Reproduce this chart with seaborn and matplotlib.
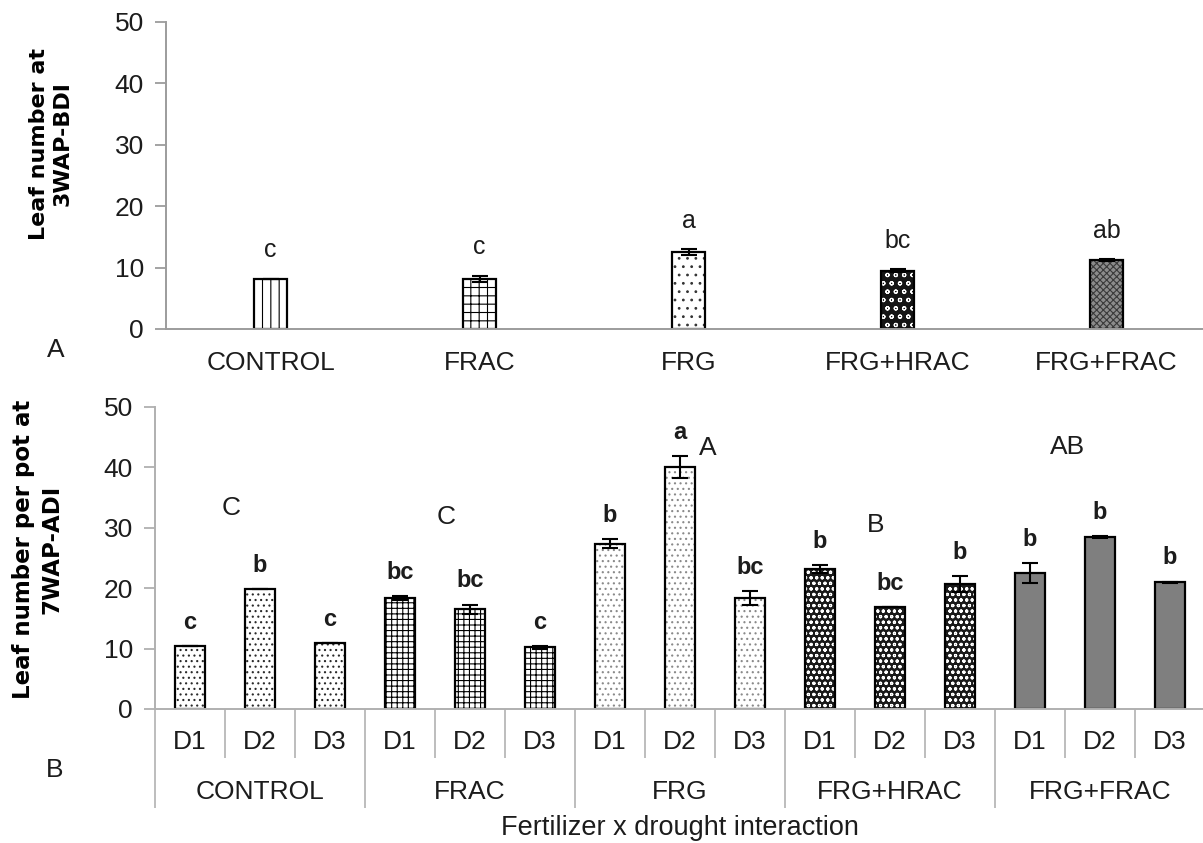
import matplotlib
matplotlib.use("Agg")
import matplotlib.pyplot as plt
from matplotlib.patches import Rectangle
import pandas as pd
import seaborn as sns

# ---- data -----------------------------------------------------------------
fertilizers = ["CONTROL", "FRAC", "FRG", "FRG+HRAC", "FRG+FRAC"]
droughts = ["D1", "D2", "D3"]

# A: leaf number at 3 WAP, before drought imposition
leaf_bdi = [8.2, 8.2, 12.5, 9.5, 11.2]
leaf_bdi_se = [0.0, 0.5, 0.5, 0.2, 0.2]
letters_bdi = ["c", "c", "a", "bc", "ab"]

# B: leaf number per pot at 7 WAP, after drought imposition (D1, D2, D3)
leaf_control = [10.4, 19.9, 11.0]
leaf_frac = [18.4, 16.5, 10.2]
leaf_frg = [27.4, 40.1, 18.4]
leaf_frg_hrac = [23.2, 16.9, 20.7]
leaf_frg_frac = [22.5, 28.5, 21.0]

se_control = [0.0, 0.0, 0.0]
se_frac = [0.3, 0.8, 0.3]
se_frg = [0.7, 1.8, 1.2]
se_frg_hrac = [0.7, 0.0, 1.3]
se_frg_frac = [1.6, 0.2, 0.1]

letters_control = ["c", "b", "c"]
letters_frac = ["bc", "bc", "c"]
letters_frg = ["b", "a", "bc"]
letters_frg_hrac = ["b", "bc", "b"]
letters_frg_frac = ["b", "b", "b"]

# fertilizer main-effect letters
fert_letters = ["C", "C", "A", "B", "AB"]

# ---- style ----------------------------------------------------------------
sns.set_style("white")
plt.rcParams["font.family"] = ["Liberation Sans", "DejaVu Sans"]
plt.rcParams["hatch.linewidth"] = 0.8

INK = "#1c1c1c"
AXIS = "#9c9c9c"
TICK_SIZE = 19

fig = plt.figure(figsize=(12.03, 8.43), dpi=100)
ax1 = fig.add_axes([166 / 1203, 1 - 329 / 843, 1045 / 1203, 307 / 843])
ax2 = fig.add_axes([155 / 1203, 1 - 709 / 843, 1050 / 1203, 302 / 843])


def texture(ax, patch, face, hatch=None, hatch_color="black"):
    """Fill a bar, lay a coloured hatch over it and redraw its outline."""
    z = patch.get_zorder()
    patch.set_facecolor(face)
    patch.set_edgecolor("none")
    x, y = patch.get_xy()
    w, h = patch.get_width(), patch.get_height()
    if hatch:
        ax.add_patch(Rectangle((x, y), w, h, fill=False, hatch=hatch,
                               edgecolor=hatch_color, linewidth=0, zorder=z + 0.1))
    ax.add_patch(Rectangle((x, y), w, h, fill=False, edgecolor="black",
                           linewidth=1.6, zorder=z + 0.2))


# ---- panel A ----------------------------------------------------------------
df_a = pd.DataFrame({"fertilizer": fertilizers, "leaves": leaf_bdi})
sns.barplot(data=df_a, x="fertilizer", y="leaves", order=fertilizers,
            width=0.16, color="white", errorbar=None, ax=ax1)

styles_a = [
    ("white", "||", "black"),
    ("white", "++", "black"),
    ("white", "..", "#333333"),
    ("#151515", "oo", "white"),
    ("#8c8c8c", "xxxxx", "#3a3a3a"),
]
for patch, (face, hatch, hcol) in zip(ax1.patches[:5], styles_a):
    texture(ax1, patch, face, hatch, hcol)

ax1.errorbar(range(5), leaf_bdi, yerr=leaf_bdi_se, fmt="none", ecolor="black",
             elinewidth=1.5, capsize=6, capthick=1.5, zorder=5)
for i, (v, e, t) in enumerate(zip(leaf_bdi, leaf_bdi_se, letters_bdi)):
    ax1.text(i, v + e + 4.6, t, ha="center", va="center", fontsize=18, color=INK)

ax1.set_xlim(-0.5, 4.5)
ax1.set_ylim(0, 50)
ax1.set_yticks(range(0, 51, 10))
ax1.set_xticks(range(5), labels=fertilizers)
ax1.set_xticks([i - 0.5 for i in range(6)], minor=True)
ax1.tick_params(axis="x", which="major", length=0, pad=16, labelsize=TICK_SIZE,
                labelcolor=INK)
ax1.tick_params(axis="x", which="minor", length=8, width=1.3, color=AXIS, direction="out")
ax1.tick_params(axis="y", length=8, width=1.3, color=AXIS, direction="out",
                pad=8, labelsize=TICK_SIZE, labelcolor=INK, left=True)
ax1.set_xlabel("")
ax1.set_ylabel("")
for side in ("top", "right"):
    ax1.spines[side].set_visible(False)
for side in ("left", "bottom"):
    ax1.spines[side].set_color(AXIS)
    ax1.spines[side].set_linewidth(1.4)
ax1.text(-0.11, 0.603, "Leaf number at\n3WAP-BDI", transform=ax1.transAxes,
         rotation=90, ha="center", va="center", fontsize=16, fontweight="bold",
         family="DejaVu Sans", color="black", linespacing=1.2)
fig.text(56 / 1203, 1 - 350 / 843, "A", ha="center", va="center", fontsize=19, color=INK)

# ---- panel B ----------------------------------------------------------------
groups = [leaf_control, leaf_frac, leaf_frg, leaf_frg_hrac, leaf_frg_frac]
group_se = [se_control, se_frac, se_frg, se_frg_hrac, se_frg_frac]
group_letters = [letters_control, letters_frac, letters_frg, letters_frg_hrac,
                 letters_frg_frac]

rows = []
for f, vals, ses, lets in zip(fertilizers, groups, group_se, group_letters):
    for d, v, s, l in zip(droughts, vals, ses, lets):
        rows.append({"cell": f"{f} {d}", "fertilizer": f, "drought": d,
                     "leaves": v, "se": s, "letter": l})
df_b = pd.DataFrame(rows)
cells = list(df_b["cell"])

sns.barplot(data=df_b, x="cell", y="leaves", order=cells, width=0.43,
            color="white", errorbar=None, ax=ax2)

styles_b = {
    "CONTROL": ("white", "...", "#2a2a2a"),
    "FRAC": ("white", "+++", "black"),
    "FRG": ("white", "...", "#8a8a8a"),
    "FRG+HRAC": ("#1a1a1a", "ooo", "white"),
    "FRG+FRAC": ("#7f7f7f", None, "black"),
}
for patch, fert in zip(ax2.patches[:15], df_b["fertilizer"]):
    face, hatch, hcol = styles_b[fert]
    texture(ax2, patch, face, hatch, hcol)

xpos = list(range(len(cells)))
ax2.errorbar(xpos, df_b["leaves"], yerr=df_b["se"], fmt="none", ecolor="black",
             elinewidth=1.5, capsize=6, capthick=1.5, zorder=5)
for x, v, s, t in zip(xpos, df_b["leaves"], df_b["se"], df_b["letter"]):
    ax2.text(x, v + s + 3.9, t, ha="center", va="center", fontsize=17,
             fontweight="bold", color=INK)

# main-effect letters for each fertilizer
fert_letter_xy = [(0.59, 33.3), (3.66, 31.8), (7.4, 43.2), (9.79, 30.5), (12.53, 43.4)]
for t, (x, y) in zip(fert_letters, fert_letter_xy):
    ax2.text(x, y, t, ha="center", va="center", fontsize=19, color=INK)

ax2.set_xlim(-0.5, 14.5)
ax2.set_ylim(0, 50)
ax2.set_yticks(range(0, 51, 10))
ax2.set_xticks(xpos, labels=list(df_b["drought"]))
ax2.tick_params(axis="x", length=0, pad=15, labelsize=TICK_SIZE, labelcolor=INK)
ax2.tick_params(axis="y", length=8, width=1.3, color="#b0b0b0", direction="out",
                pad=8, labelsize=TICK_SIZE, labelcolor=INK, left=True)
ax2.set_xlabel("")
ax2.set_ylabel("")
for side in ("top", "right"):
    ax2.spines[side].set_visible(False)
for side in ("left", "bottom"):
    ax2.spines[side].set_color("#b0b0b0")
    ax2.spines[side].set_linewidth(1.4)

# two-level category axis: separators and fertilizer names
xt = ax2.get_xaxis_transform()
sub_edges = [i + 0.5 for i in range(14) if (i + 1) % 3 != 0]
grp_edges = [-0.5, 2.5, 5.5, 8.5, 11.5, 14.5]
ax2.vlines(sub_edges, -0.162, 0, transform=xt, colors="#b8b8b8", linewidth=1.3,
           clip_on=False)
ax2.vlines(grp_edges, -0.328, 0, transform=xt, colors="#b8b8b8", linewidth=1.3,
           clip_on=False)
for g, f in enumerate(fertilizers):
    ax2.text(3 * g + 1, -0.275, f, transform=xt, ha="center", va="center",
             fontsize=TICK_SIZE, color=INK)

fig.text(680 / 1203, 1 - 828 / 843, "Fertilizer x drought interaction",
         ha="center", va="center", fontsize=19.5, color=INK)
ax2.text(-0.112, 0.53, "Leaf number per pot at\n7WAP-ADI", transform=ax2.transAxes,
         rotation=90, ha="center", va="center", fontsize=16.5, fontweight="bold",
         family="DejaVu Sans", color="black", linespacing=1.3)
fig.text(55 / 1203, 1 - 770 / 843, "B", ha="center", va="center", fontsize=19, color=INK)

fig.savefig("out.png", dpi=100)
